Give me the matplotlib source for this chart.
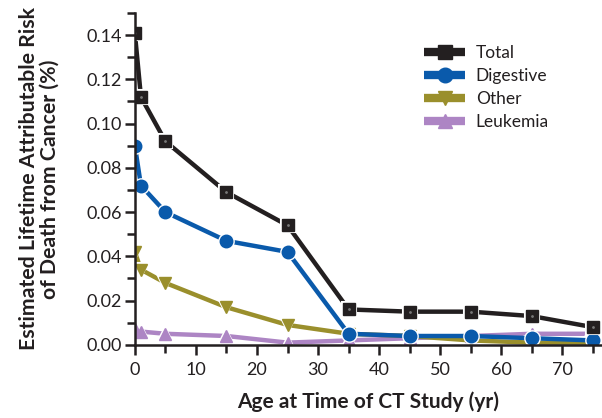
import matplotlib.pyplot as plt
from matplotlib.lines import Line2D
from matplotlib.ticker import MultipleLocator, FormatStrFormatter

plt.rcParams['font.family'] = ['Lato', 'DejaVu Sans']

# age at time of CT study (yr)
ages = [0, 1, 5, 15, 25, 35, 45, 55, 65, 75]
total = [0.141, 0.112, 0.092, 0.069, 0.054, 0.016, 0.015, 0.015, 0.013, 0.008]
digestive = [0.090, 0.072, 0.060, 0.047, 0.042, 0.005, 0.004, 0.004, 0.003, 0.002]
other = [0.042, 0.034, 0.028, 0.017, 0.009, 0.005, 0.004, 0.002, 0.001, 0.001]
leukemia = [0.007, 0.006, 0.005, 0.004, 0.001, 0.002, 0.003, 0.004, 0.005, 0.005]

series = [
    ("Total", total, "#231f20", "s", 10.5),
    ("Digestive", digestive, "#0a5aab", "o", 10.5),
    ("Other", other, "#9a8f2c", "v", 10.5),
    ("Leukemia", leukemia, "#ad85c4", "^", 9.5),
]

fig = plt.figure(figsize=(6.02, 4.18), dpi=100)
ax = fig.add_axes([0.224, 0.175, 0.776, 0.794])

# draw the bottom series first so Total stays on top
for name, vals, col, mk, ms in reversed(series):
    ax.plot(ages, vals, color=col, lw=3.2, marker=mk, ms=ms,
            mec="white", mew=1.5, solid_capstyle="butt")
    ax.plot(ages, vals, ls="none", marker=mk, ms=ms - 1.5, color=col)
    if name == "Total":
        ax.plot(ages, vals, ls="none", marker=".", ms=2, color="#777777")

ax.set_xlim(0, 76.5)
ax.set_ylim(0, 0.15)
ax.xaxis.set_major_locator(MultipleLocator(10))
ax.xaxis.set_minor_locator(MultipleLocator(5))
ax.yaxis.set_major_locator(MultipleLocator(0.02))
ax.yaxis.set_minor_locator(MultipleLocator(0.01))
ax.yaxis.set_major_formatter(FormatStrFormatter("%.2f"))

for s in ["top", "right"]:
    ax.spines[s].set_visible(False)
for s in ["left", "bottom"]:
    ax.spines[s].set_linewidth(1.8)
    ax.spines[s].set_color("#231f20")

ax.tick_params(which="major", length=7, width=1.8, labelsize=13,
               colors="#231f20", pad=2)
ax.tick_params(which="minor", length=6, width=1.8, colors="#231f20")
ax.tick_params(axis="x", pad=5)

ax.set_xlabel("Age at Time of CT Study (yr)", fontsize=15, fontweight="bold",
              color="#231f20", labelpad=10)
ax.set_ylabel("Estimated Lifetime Attributable Risk\nof Death from Cancer (%)",
              fontsize=15.3, fontweight="bold", color="#231f20", labelpad=12,
              linespacing=1.08)
ax.yaxis.set_label_coords(-0.16, 0.5)

handles = [Line2D([], [], color=col, lw=6, marker=mk, ms=ms, solid_capstyle="butt")
           for name, vals, col, mk, ms in series]
ax.legend(handles, [s[0] for s in series], loc="upper left",
          bbox_to_anchor=(0.585, 0.95), frameon=False, fontsize=12.5,
          handlelength=2.4, handletextpad=0.6, labelspacing=0.4,
          labelcolor="#231f20")

fig.savefig("out.png", dpi=100)
